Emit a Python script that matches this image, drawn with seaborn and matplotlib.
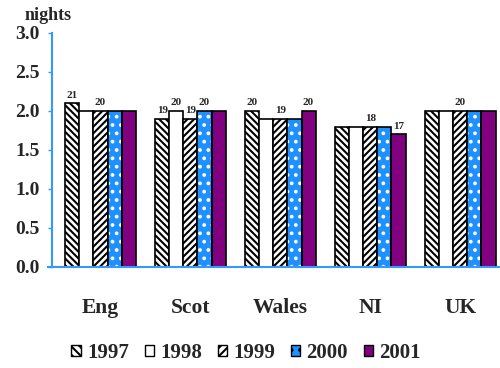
import matplotlib
matplotlib.use("Agg")
import matplotlib.pyplot as plt
from matplotlib.patches import Rectangle, Patch
import seaborn as sns
import pandas as pd
import numpy as np

regions = ["Eng", "Scot", "Wales", "NI", "UK"]
years = ["1997", "1998", "1999", "2000", "2001"]
v1997 = [2.1, 1.9, 2.0, 1.8, 2.0]
v1998 = [2.0, 2.0, 1.9, 1.8, 2.0]
v1999 = [2.0, 1.9, 1.9, 1.8, 2.0]
v2000 = [2.0, 2.0, 1.9, 1.8, 2.0]
v2001 = [2.0, 2.0, 2.0, 1.7, 2.0]
yticks = [0.0, 0.5, 1.0, 1.5, 2.0, 2.5, 3.0]
# value labels shown in the chart: (region, year, text)
label_region = ["Eng", "Eng", "Scot", "Scot", "Scot", "Scot", "Wales", "Wales", "Wales", "NI", "NI", "UK"]
label_year = ["1997", "1999", "1997", "1998", "1999", "2000", "1997", "1999", "2001", "1999", "2001", "1999"]
label_text = ["21", "20", "19", "20", "19", "20", "20", "19", "20", "18", "17", "20"]

rows = []
for y, vals in zip(years, [v1997, v1998, v1999, v2000, v2001]):
    for r, v in zip(regions, vals):
        rows.append({"region": r, "year": y, "nights": v})
df = pd.DataFrame(rows)

sns.set_style("white")
plt.rcParams["font.family"] = ["Liberation Serif", "DejaVu Serif"]
plt.rcParams["hatch.linewidth"] = 1.5

fig = plt.figure(figsize=(5.0, 3.68), dpi=100)
ax = fig.add_axes([0.104, 0.2745, 0.896, 0.636])

BLUE = "#1E90FF"
PURPLE = "#800080"
styles = {
    "1997": dict(fc="white", hatch="\\" * 5),
    "1998": dict(fc="white", hatch=""),
    "1999": dict(fc="white", hatch="/" * 5),
    "2000": dict(fc=BLUE, hatch=".."),
    "2001": dict(fc=PURPLE, hatch=""),
}

sns.barplot(data=df, x="region", y="nights", hue="year", order=regions,
            hue_order=years, width=0.78, ax=ax, legend=False,
            palette=["white"] * 5, edgecolor="black", linewidth=1.2, saturation=1)

for cont, y in zip(ax.containers, years):
    st = styles[y]
    for p in cont.patches:
        p.set_facecolor(st["fc"])
        p.set_hatch(st["hatch"])
        if y == "2000":
            p.set_edgecolor("white")
            p.set_linewidth(0)
            ax.add_patch(Rectangle(p.get_xy(), p.get_width(), p.get_height(),
                                   fill=False, edgecolor="black", linewidth=1.2, zorder=p.get_zorder() + 0.1))

# value labels
for r, y, t in zip(label_region, label_year, label_text):
    cont = ax.containers[years.index(y)]
    p = cont.patches[regions.index(r)]
    ax.text(p.get_x() + p.get_width() / 2, p.get_height() + 0.045, t,
            ha="center", va="bottom", fontsize=8, fontweight="bold")

ax.set_ylim(0, 3.0)
ax.set_xlim(-0.539, 4.44)
ax.set_yticks(yticks)
ax.set_yticklabels([f"{v:.1f}" for v in yticks], fontsize=14, fontweight="bold")
ax.set_xlabel("")
ax.set_ylabel("")
ax.tick_params(axis="y", length=3, width=1, color="#3399FF", direction="out", pad=6, left=True)
ax.tick_params(axis="x", length=0, pad=22, labelsize=15.5)
for lab in ax.get_xticklabels():
    lab.set_fontweight("bold")
for s in ["top", "right"]:
    ax.spines[s].set_visible(False)
for s in ["left", "bottom"]:
    ax.spines[s].set_color("#3399FF")
    ax.spines[s].set_linewidth(1.5)
ax.spines["bottom"].set_bounds(-0.578, 4.44)

fig.text(0.05, 0.958, "nights", fontsize=13, fontweight="bold", ha="left", va="center")

handles = []
for y in years:
    st = styles[y]
    handles.append(Patch(facecolor=st["fc"], edgecolor="black",
                         hatch=st["hatch"][:4], linewidth=1))
leg = fig.legend(handles, years, loc="center", bbox_to_anchor=(0.492, 0.04), ncol=5,
                 frameon=False, prop={"size": 15, "weight": "bold"},
                 handlelength=0.45, handleheight=0.45, handletextpad=0.3, columnspacing=0.75)

fig.savefig("out.png", dpi=100)
